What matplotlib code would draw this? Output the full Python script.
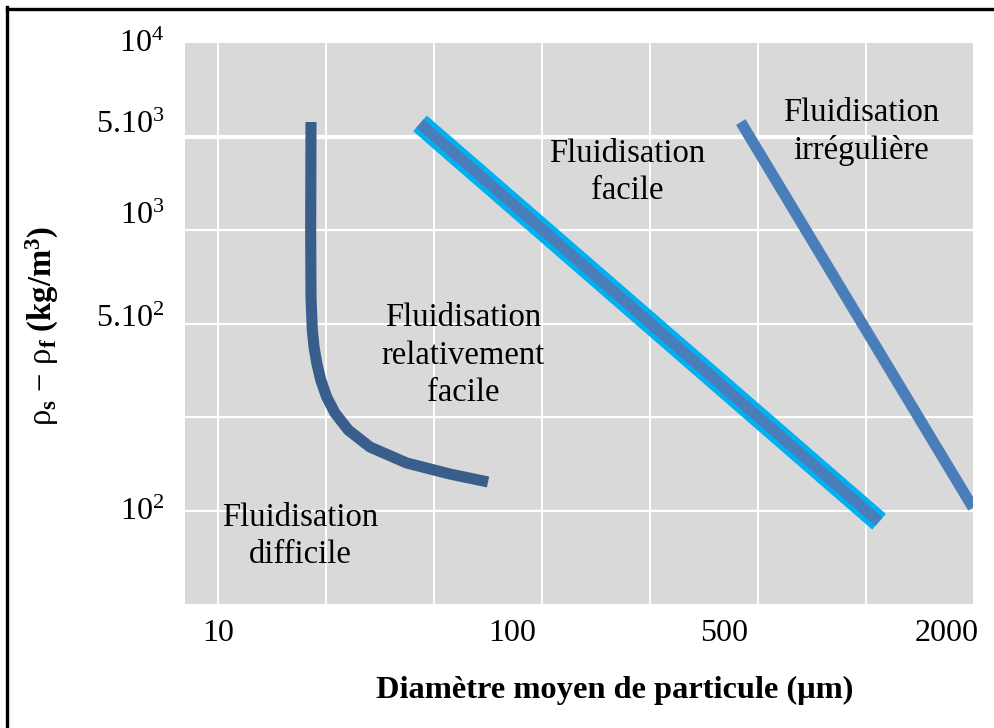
import matplotlib
matplotlib.use("Agg")
import matplotlib.pyplot as plt
from matplotlib.lines import Line2D

plt.rcParams['font.family'] = ['Liberation Serif', 'DejaVu Serif']
plt.rcParams['mathtext.fontset'] = 'custom'
plt.rcParams['mathtext.rm'] = 'Liberation Serif'
plt.rcParams['mathtext.it'] = 'Liberation Serif:italic'
plt.rcParams['mathtext.bf'] = 'Liberation Serif:bold'

# ---- data (axis units: x = grid index of particle diameter, y = grid index of density difference)
x_tick_pos = [0.0, 2.72, 4.69, 6.75]
x_tick_labels = ['10', '100', '500', '2000']
y_tick_pos = [5.90, 5.04, 4.06, 2.96, 0.90]
y_tick_labels = [r'$\mathregular{10^4}$', r'$\mathregular{5.10^3}$', r'$\mathregular{10^3}$',
                 r'$\mathregular{5.10^2}$', r'$\mathregular{10^2}$']

# boundary C/A (curve)
curve_ca_x = [0.861, 0.858, 0.861, 0.873, 0.889, 0.914, 0.951, 1.006, 1.083, 1.206,
              1.407, 1.747, 2.148, 2.50]
curve_ca_y = [5.155, 4.000, 3.283, 2.930, 2.749, 2.578, 2.396, 2.214, 2.043, 1.861,
              1.679, 1.508, 1.390, 1.305]
# boundary A/B (straight)
line_ab_x = [1.87, 6.12]
line_ab_y = [5.14, 0.88]
# boundary B/D (straight)
line_bd_x = [4.84, 6.99]
line_bd_y = [5.155, 1.03]

zones = [
    ("Fluidisation\ndifficile", 0.76, 0.727),
    ("Fluidisation\nrelativement\nfacile", 2.27, 2.66),
    ("Fluidisation\nfacile", 3.79, 4.62),
    ("Fluidisation\nirrégulière", 5.95, 5.05),
]

dark = '#3A5E8C'
medium = '#4A7EBB'
light = '#00B0F0'

fig = plt.figure(figsize=(9.95, 7.28), dpi=100)
ax = fig.add_axes([185/995, 1-604/728, 788/995, 561/728])
ax.set_facecolor('#D9D9D9')
ax.set_xlim(-0.3056, 6.99)
ax.set_ylim(0, 6)

for gx in range(0, 7):
    ax.axvline(gx, color='white', lw=1.4, zorder=1)
for gy in range(1, 6):
    ax.axhline(gy, color='white', lw=3.0 if gy == 5 else 1.6, zorder=1)

ax.plot(curve_ca_x, curve_ca_y, color=dark, lw=8, solid_capstyle='butt',
        solid_joinstyle='round', zorder=3)
ax.plot(line_ab_x, line_ab_y, color=light, lw=15, solid_capstyle='butt', zorder=3)
ax.plot(line_ab_x, line_ab_y, color=medium, lw=8, solid_capstyle='butt', zorder=4)
ax.plot(line_bd_x, line_bd_y, color=medium, lw=8, solid_capstyle='butt', zorder=3)

for txt, x, y in zones:
    ax.text(x, y, txt, ha='center', va='center', fontsize=23.5, linespacing=1.3, zorder=5)

for s in ax.spines.values():
    s.set_visible(False)

ax.set_xticks(x_tick_pos, x_tick_labels, fontsize=23)
ax.set_yticks(y_tick_pos, y_tick_labels, fontsize=23)
ax.tick_params(axis='both', length=0)
ax.tick_params(axis='x', pad=11)
ax.tick_params(axis='y', pad=15)
for lab in ax.get_yticklabels():
    lab.set_va('baseline')

fig.text(615/995, 1-690/728, 'Diamètre moyen de particule (μm)', ha='center', va='center',
         fontsize=23.3, fontweight='bold')
fig.text(42/995, 1-326/728,
         r'$\mathrm{\rho}_\mathbf{s}\,-\,\mathrm{\rho}_\mathbf{f}\ \mathbf{(kg/m^3)}$',
         ha='center', va='center', rotation=90, fontsize=23.5)

# partial figure frame (top and left)
fig.add_artist(Line2D([7/995, 1.0], [1-8.5/728, 1-8.5/728], transform=fig.transFigure,
                      color='black', lw=2.4))
fig.add_artist(Line2D([7.5/995, 7.5/995], [0, 1-7/728], transform=fig.transFigure,
                      color='black', lw=2.4))

fig.savefig('out.png', dpi=100)
